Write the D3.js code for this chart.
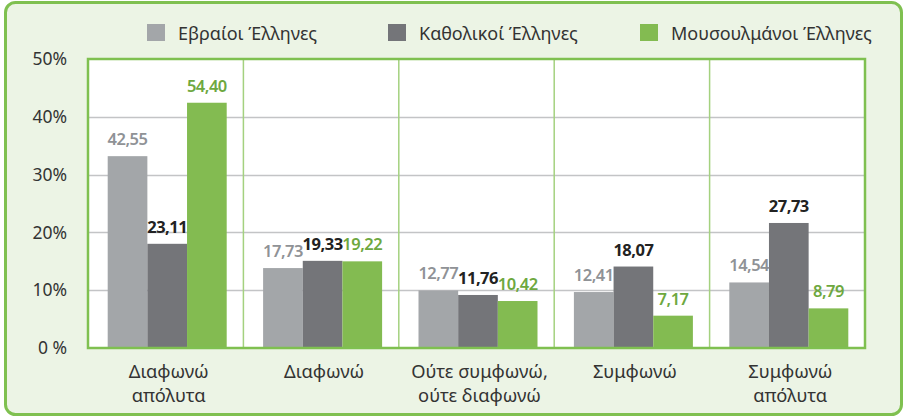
<!DOCTYPE html>
<html>
<head>
<meta charset="utf-8">
<script src="https://cdn.jsdelivr.net/npm/d3@7/dist/d3.min.js"></script>
<style>
  html, body { margin: 0; padding: 0; background: #ffffff; }
  svg { display: block; font-family: "Noto Sans", "Open Sans", sans-serif; }
</style>
</head>
<body>
<svg id="chart" width="904" height="417"></svg>
<script>
// ---- data ----
const categories = [["Διαφωνώ", "απόλυτα"], ["Διαφωνώ"], ["Ούτε συμφωνώ,", "ούτε διαφωνώ"], ["Συμφωνώ"], ["Συμφωνώ", "απόλυτα"]];
const seriesNames = ["Εβραίοι Έλληνες", "Καθολικοί Έλληνες", "Μουσουλμάνοι Έλληνες"];
const jewish   = [42.55, 17.73, 12.77, 12.41, 14.54];
const catholic = [23.11, 19.33, 11.76, 18.07, 27.73];
const muslim   = [54.40, 19.22, 10.42, 7.17, 8.79];
const yTickLabels = ["0 %", "10%", "20%", "30%", "40%", "50%"];
// value at the top of the drawn axis (the bars in the original are drawn on this scale)
const axisMax = 64.1;

const seriesValues = [jewish, catholic, muslim];
const colors = ["#a3a6a9", "#747579", "#83bb51"];
const labelColors = ["#8f9296", "#222222", "#6ea83f"];
const labelWeights = [600, 700, 600];

const svg = d3.select("#chart");

// outer panel
svg.append("rect")
  .attr("x", 5.5).attr("y", 2.5).attr("width", 896).attr("height", 412)
  .attr("rx", 10).attr("ry", 10)
  .attr("fill", "#ecf4e5").attr("stroke", "#7fc050").attr("stroke-width", 3);

const plot = { left: 88, right: 865, top: 59, bottom: 348 };

const x = d3.scaleBand()
  .domain(d3.range(categories.length))
  .range([plot.left, plot.right]);

const groupWidth = 119;
const xs = d3.scaleBand()
  .domain(d3.range(seriesNames.length))
  .range([0, groupWidth]);
const groupOffset = (x.bandwidth() - groupWidth) / 2 + 1.5;

const y = d3.scaleLinear().domain([0, axisMax]).range([plot.bottom, plot.top]);
const tickVals = yTickLabels.map((d, i) => i * axisMax / (yTickLabels.length - 1));

// plot background
svg.append("rect")
  .attr("x", plot.left).attr("y", plot.top)
  .attr("width", plot.right - plot.left).attr("height", plot.bottom - plot.top)
  .attr("fill", "#ffffff");

// horizontal gridlines
svg.append("g").selectAll("line")
  .data(tickVals.slice(1, -1))
  .join("line")
  .attr("x1", plot.left).attr("x2", plot.right)
  .attr("y1", d => Math.round(y(d)) + 0.5).attr("y2", d => Math.round(y(d)) + 0.5)
  .attr("stroke", "#c3c4c6").attr("stroke-width", 1.5);

// vertical separators
svg.append("g").selectAll("line")
  .data(d3.range(1, categories.length))
  .join("line")
  .attr("x1", d => x(d)).attr("x2", d => x(d))
  .attr("y1", plot.top).attr("y2", plot.bottom)
  .attr("stroke", "#a4d17f").attr("stroke-width", 1.5);

// y axis labels
const yAxis = d3.axisLeft(y).tickValues(tickVals)
  .tickFormat((d, i) => yTickLabels[i]).tickSize(0).tickPadding(21);
const yg = svg.append("g").attr("transform", `translate(${plot.left},0)`).call(yAxis);
yg.select(".domain").remove();
yg.selectAll("text")
  .attr("font-size", 17.5).attr("fill", "#333333")
  .attr("font-family", "'Noto Sans', sans-serif");

// bars
const flat = [];
seriesValues.forEach((vals, s) => vals.forEach((v, c) => flat.push({ s, c, v })));

svg.append("g").selectAll("rect")
  .data(flat)
  .join("rect")
  .attr("x", d => x(d.c) + groupOffset + xs(d.s))
  .attr("width", xs.bandwidth())
  .attr("y", d => y(d.v))
  .attr("height", d => plot.bottom - y(d.v))
  .attr("fill", d => colors[d.s]);

// value labels
svg.append("g").selectAll("text")
  .data(flat)
  .join("text")
  .attr("x", d => x(d.c) + groupOffset + xs(d.s) + xs.bandwidth() / 2)
  .attr("y", d => y(d.v) - 11)
  .attr("text-anchor", "middle")
  .attr("font-size", 16.5)
  .attr("letter-spacing", -0.5)
  .attr("font-weight", d => labelWeights[d.s])
  .attr("fill", d => labelColors[d.s])
  .text(d => d3.format(".2f")(d.v).replace(".", ","));

// plot border
svg.append("rect")
  .attr("x", plot.left).attr("y", plot.top)
  .attr("width", plot.right - plot.left).attr("height", plot.bottom - plot.top)
  .attr("fill", "none").attr("stroke", "#7fc050").attr("stroke-width", 2.5);

// category labels
const xg = svg.append("g");
categories.forEach((lines, c) => {
  const cx = x(c) + x.bandwidth() / 2 + 3;
  const t = xg.append("text")
    .attr("x", cx)
    .attr("y", 378)
    .attr("text-anchor", "middle")
    .attr("font-size", 18.3)
    .attr("fill", "#333333");
  lines.forEach((ln, i) => {
    t.append("tspan")
      .attr("x", cx)
      .attr("dy", i === 0 ? 0 : 24)
      .text(ln);
  });
});

// legend
const legendX = [147, 388, 640];
const lg = svg.append("g");
seriesNames.forEach((name, i) => {
  lg.append("rect")
    .attr("x", legendX[i]).attr("y", 24)
    .attr("width", 18).attr("height", 17)
    .attr("fill", colors[i]);
  lg.append("text")
    .attr("x", legendX[i] + 31).attr("y", 39.5)
    .attr("font-size", 18)
    .attr("fill", "#333333")
    .text(name);
});
</script>
</body>
</html>
